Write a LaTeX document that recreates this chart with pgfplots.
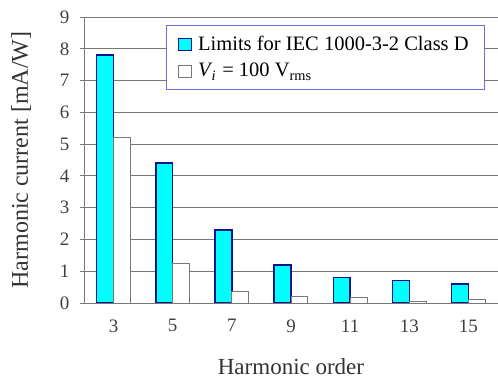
\documentclass[border=0pt]{standalone}
\usepackage{pgfplots}
\pgfplotsset{compat=1.18}
\usepackage{fontspec}
\setmainfont{Liberation Serif}

\definecolor{limfill}{RGB}{0,255,255}
\definecolor{limedge}{RGB}{10,20,140}
\definecolor{gridgray}{RGB}{120,120,120}
\definecolor{legedge}{RGB}{110,110,220}

\pgfplotstableread{
order limit meas
3  7.8 5.2
5  4.4 1.25
7  2.3 0.36
9  1.2 0.21
11 0.8 0.18
13 0.7 0.05
15 0.6 0.1
}\harmonics

\begin{document}
\begin{tikzpicture}
\useasboundingbox (0pt,0pt) rectangle (498pt,382pt);
\begin{axis}[
  at={(84pt,79pt)}, anchor=south west,
  scale only axis,
  width=414pt, height=286pt,
  xmin=2, xmax=16, ymin=0, ymax=9,
  ybar=0pt, bar width=0.57,
  xtick={3,5,...,15},
  ytick={0,1,...,8},
  extra y ticks={9},
  extra y tick style={grid style={draw=gridgray!45, line width=0.8pt}},
  xticklabel={\pgfmathprintnumber[assume math mode=true]{\tick}},
  yticklabel={\pgfmathprintnumber[assume math mode=true]{\tick}},
  axis lines*=left,
  axis line style={draw=gridgray, line width=0.8pt},
  ymajorgrids,
  major grid style={draw=gridgray, line width=0.8pt},
  x tick style={draw=none},
  y tick style={draw=gridgray, line width=0.8pt},
  tick align=outside,
  major tick length=4pt,
  ticklabel style={font=\fontsize{19}{22}\selectfont, text=black!75},
  yticklabel style={xshift=-7pt},
  xticklabel style={yshift=-9pt},
  xlabel={Harmonic order},
  ylabel={Harmonic current [mA/W]},
  xlabel style={font=\fontsize{23}{26}\selectfont, text=black!80, yshift=-19pt},
  ylabel style={font=\fontsize{24}{26}\selectfont, text=black!80, yshift=14pt},
  legend cell align=left,
  legend style={
    at={(0.198,0.972)}, anchor=north west,
    draw=legedge, line width=0.8pt, fill=white,
    font=\fontsize{20.5}{24}\selectfont,
    inner xsep=12pt, inner ysep=9pt,
    row sep=7pt,
    /tikz/every odd column/.append style={column sep=4pt},
  },
  legend image code/.code={
    \draw[#1, line width=0.8pt] (0pt,-6pt) rectangle (13pt,6pt);
  },
]
\addplot[fill=limfill, draw=limedge, line width=1.4pt]
  table[x=order, y=limit] {\harmonics};
\addlegendentry{Limits for IEC 1000-3-2 Class D\hspace*{2pt}}
\addplot[fill=white, draw=gridgray, line width=0.8pt]
  table[x=order, y=meas] {\harmonics};
\addlegendentry{\textit{V}\kern-1pt\textsubscript{\textit{i}}\kern1pt{} = 100 V\textsubscript{rms}}
\end{axis}
\end{tikzpicture}
\end{document}
